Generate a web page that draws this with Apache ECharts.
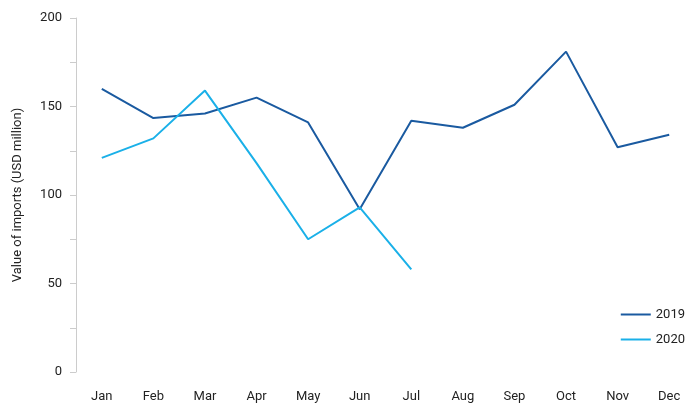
<!DOCTYPE html>
<html><head><meta charset="utf-8">
<script src="https://cdn.jsdelivr.net/npm/echarts@6/dist/echarts.min.js"></script>
<style>html,body{margin:0;padding:0;background:#fff}#c{width:700px;height:412px}</style>
</head><body><div id="c"></div>
<script>
const categories=['Jan','Feb','Mar','Apr','May','Jun','Jul','Aug','Sep','Oct','Nov','Dec'];
const s2019=[160,143.5,146,155,141,92,142,138,151,181,127,134];
const s2020=[121,132,159,118,75,93,58];
const yTicks=[0,50,100,150,200];
const chart=echarts.init(document.getElementById('c'));
const font='Roboto';
chart.setOption({
 animation:false,
 grid:{left:76,right:5,top:18,bottom:40},
 legend:{orient:'vertical',right:10,top:303,itemWidth:30,itemHeight:2,itemGap:12,icon:'rect',
  textStyle:{fontFamily:font,fontSize:13,color:'#222'},data:['2019','2020']},
 xAxis:{type:'category',data:categories,boundaryGap:true,
  axisLine:{show:false},axisTick:{show:false},
  axisLabel:{fontFamily:font,fontSize:13,color:'#222',margin:18}},
 yAxis:{type:'value',min:0,max:200,interval:50,
  name:'Value of imports (USD million)',nameLocation:'middle',nameGap:52,
  nameTextStyle:{fontFamily:font,fontSize:13,color:'#222'},
  axisLine:{show:true,lineStyle:{color:'#ccc'}},
  axisTick:{show:true,inside:false,length:6,lineStyle:{color:'#ccc'}},
  minorTick:{show:true,splitNumber:2,length:6,lineStyle:{color:'#ccc'}},
  splitLine:{show:false},
  axisLabel:{fontFamily:font,fontSize:13,color:'#222',margin:14,
   formatter:v=>yTicks.includes(v)?String(v):''}},
 series:[
  {name:'2019',type:'line',data:s2019,symbol:'none',lineStyle:{color:'#1a5aa0',width:2},itemStyle:{color:'#1a5aa0'}},
  {name:'2020',type:'line',data:s2020,symbol:'none',lineStyle:{color:'#1ab0e8',width:2},itemStyle:{color:'#1ab0e8'}}
 ]
});
</script></body></html>
